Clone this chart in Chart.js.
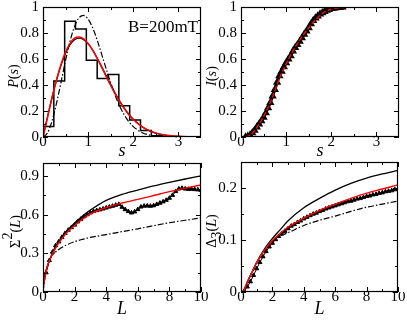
<!DOCTYPE html>
<html>
<head>
<meta charset="utf-8">
<script src="https://cdn.jsdelivr.net/npm/chart.js@4/dist/chart.umd.min.js"></script>
<style>
  body { margin: 0; background: #fff; }
  #wrap { position: relative; width: 407px; height: 320px; }
  #wrap canvas { position: absolute; left: 0; top: 0; }
</style>
</head>
<body>
<div id="wrap">
  <canvas id="c1" width="407" height="320"></canvas>
  <canvas id="c2" width="407" height="320"></canvas>
  <canvas id="c3" width="407" height="320"></canvas>
  <canvas id="c4" width="407" height="320"></canvas>
</div>
<script>
// ---------- panel 1: P(s) ----------
const histEdges = [0, 0.24, 0.48, 0.72, 0.96, 1.2, 1.44, 1.68, 1.92, 2.16, 2.4, 2.64];
const histHeights = [0.08, 0.43, 0.89, 0.83, 0.59, 0.45, 0.48, 0.24, 0.13, 0.05, 0.01];
const pS = [0, 0.1, 0.2, 0.3, 0.4, 0.5, 0.6, 0.7, 0.8, 0.9, 1.0, 1.1, 1.2, 1.3, 1.4, 1.5, 1.6, 1.7, 1.8, 1.9, 2.0, 2.2, 2.4, 2.6, 2.8, 3.0, 3.3];
const pRed = [0, 0.15, 0.30, 0.44, 0.56, 0.655, 0.72, 0.76, 0.77, 0.755, 0.72, 0.668, 0.605, 0.536, 0.465, 0.396, 0.33, 0.27, 0.218, 0.172, 0.134, 0.078, 0.043, 0.022, 0.011, 0.005, 0.001];
const pGOE = [0, 0.156, 0.305, 0.439, 0.554, 0.645, 0.71, 0.748, 0.76, 0.748, 0.716, 0.668, 0.608, 0.542, 0.472, 0.403, 0.337, 0.276, 0.222, 0.175, 0.136, 0.077, 0.041, 0.02, 0.009, 0.004, 0.001];
const gS = [0, 0.1, 0.2, 0.3, 0.4, 0.5, 0.6, 0.7, 0.8, 0.9, 1.0, 1.1, 1.2, 1.3, 1.4, 1.5, 1.6, 1.7, 1.8, 1.9, 2.0, 2.2, 2.4, 2.6];
const pGUE = [0, 0.032, 0.123, 0.26, 0.423, 0.59, 0.738, 0.851, 0.918, 0.936, 0.906, 0.841, 0.746, 0.636, 0.524, 0.416, 0.319, 0.237, 0.17, 0.118, 0.08, 0.033, 0.012, 0.004];

// ---------- panel 2: I(s) ----------
const iDataS = [0.10, 0.15, 0.20, 0.25, 0.30, 0.35, 0.40, 0.45, 0.50, 0.55, 0.60, 0.65, 0.70, 0.75, 0.80, 0.85, 0.90, 0.95, 1.00, 1.05, 1.10, 1.15, 1.20, 1.25, 1.30, 1.35, 1.40, 1.45, 1.50, 1.55, 1.60, 1.65, 1.70, 1.75, 1.80, 1.85, 1.90, 1.95, 2.00, 2.05, 2.10, 2.15, 2.20, 2.25];
const iData = [0, 0.005, 0.015, 0.032, 0.052, 0.076, 0.10, 0.125, 0.152, 0.185, 0.225, 0.265, 0.315, 0.365, 0.42, 0.47, 0.505, 0.54, 0.57, 0.60, 0.625, 0.66, 0.688, 0.71, 0.735, 0.762, 0.79, 0.815, 0.84, 0.87, 0.895, 0.915, 0.93, 0.945, 0.955, 0.965, 0.975, 0.982, 0.988, 0.99, 0.994, 0.996, 0.998, 1.0];
const iFitS = [0.1, 0.2, 0.3, 0.4, 0.5, 0.6, 0.7, 0.8, 0.9, 1.0, 1.1, 1.2, 1.3, 1.4, 1.5, 1.6, 1.7, 1.8, 1.9, 2.0, 2.2, 2.4, 2.6, 3.0];
const iFit = [0, 0.013, 0.05, 0.10, 0.158, 0.228, 0.31, 0.405, 0.49, 0.563, 0.63, 0.69, 0.745, 0.795, 0.84, 0.885, 0.92, 0.95, 0.97, 0.983, 0.995, 0.999, 1.0, 1.0];

// ---------- panel 3: Sigma^2(L) ----------
const dataL = [0.2, 0.4, 0.6, 0.8, 1.0, 1.2, 1.4, 1.6, 1.8, 2.0, 2.2, 2.4, 2.6, 2.8, 3.0, 3.2, 3.4, 3.6, 3.8, 4.0, 4.2, 4.4, 4.6, 4.8, 5.0, 5.2, 5.4, 5.6, 5.8, 6.0, 6.2, 6.4, 6.6, 6.8, 7.0, 7.2, 7.4, 7.6, 7.8, 8.0, 8.2, 8.4, 8.6, 8.8, 9.0, 9.2, 9.4, 9.6, 9.8, 10.0];
const sigData = [0.15, 0.245, 0.31, 0.36, 0.39, 0.425, 0.455, 0.48, 0.50, 0.52, 0.545, 0.565, 0.585, 0.60, 0.615, 0.625, 0.632, 0.638, 0.645, 0.652, 0.66, 0.666, 0.674, 0.68, 0.658, 0.64, 0.625, 0.614, 0.622, 0.64, 0.66, 0.667, 0.668, 0.666, 0.67, 0.68, 0.69, 0.70, 0.712, 0.728, 0.75, 0.78, 0.80, 0.805, 0.80, 0.797, 0.798, 0.795, 0.793, 0.79];
const curveL = [0, 0.1, 0.25, 0.5, 0.75, 1, 1.5, 2, 2.5, 3, 4, 5, 6, 7, 8, 9, 10];
const sigGOE = [0, 0.12, 0.19, 0.27, 0.335, 0.39, 0.47, 0.535, 0.59, 0.635, 0.71, 0.757, 0.79, 0.822, 0.85, 0.876, 0.90];
const sigRed = [0.03, 0.1, 0.19, 0.27, 0.33, 0.38, 0.46, 0.515, 0.565, 0.605, 0.655, 0.69, 0.718, 0.748, 0.778, 0.805, 0.83];
const sigGUE = [0, 0.09, 0.18, 0.27, 0.305, 0.33, 0.365, 0.39, 0.408, 0.423, 0.445, 0.468, 0.49, 0.514, 0.537, 0.556, 0.575];

// ---------- panel 4: Delta_3(L) ----------
const d3Data = [0.002, 0.01, 0.02, 0.032, 0.045, 0.057, 0.068, 0.078, 0.087, 0.094, 0.101, 0.107, 0.112, 0.117, 0.122, 0.127, 0.130, 0.134, 0.137, 0.141, 0.144, 0.147, 0.150, 0.152, 0.155, 0.157, 0.160, 0.162, 0.164, 0.166, 0.168, 0.170, 0.172, 0.174, 0.175, 0.177, 0.179, 0.180, 0.182, 0.184, 0.185, 0.187, 0.188, 0.190, 0.191, 0.193, 0.194, 0.195, 0.197, 0.198];
const d3L = [0.15, 0.4, 0.7, 1, 1.5, 2, 2.5, 3, 4, 5, 6, 7, 8, 9, 10];
const d3Red = [0, 0.019, 0.038, 0.057, 0.081, 0.099, 0.113, 0.125, 0.142, 0.157, 0.169, 0.18, 0.19, 0.198, 0.206];
const d3GOE = [0, 0.019, 0.038, 0.057, 0.083, 0.103, 0.12, 0.137, 0.162, 0.18, 0.196, 0.209, 0.219, 0.227, 0.234];
const d3GUE = [0, 0.019, 0.038, 0.056, 0.08, 0.097, 0.108, 0.114, 0.128, 0.138, 0.146, 0.155, 0.163, 0.169, 0.175];

// ---------- ticks ----------
const sTicks = [0, 1, 2, 3];
const sTickLabels = ['0', '1', '2', '3'];
const sMinor = [0.5, 1.5, 2.5];
const pTicks = [0, 0.2, 0.4, 0.6, 0.8, 1];
const pTickLabels = ['0', '0.2', '0.4', '0.6', '0.8', '1'];
const pMinor = [0.1, 0.3, 0.5, 0.7, 0.9];
const lTicks = [0, 2, 4, 6, 8, 10];
const lTickLabels = ['0', '2', '4', '6', '8', '10'];
const lMinor = [1, 3, 5, 7, 9];
const sigTicks = [0, 0.3, 0.6, 0.9];
const sigTickLabels = ['0', '0.3', '0.6', '0.9'];
const sigMinor = [0.15, 0.45, 0.75];
const d3Ticks = [0, 0.1, 0.2];
const d3TickLabels = ['0', '0.1', '0.2'];
const d3Minor = [0.05, 0.15, 0.25];

const FONT = 'Liberation Serif';
const RED = '#ff0000';
const DASHDOT = [6, 2, 1.5, 2];

Chart.defaults.font.family = FONT;
Chart.defaults.color = '#000';

const pts = (xs, ys) => xs.map((x, i) => ({ x: x, y: ys[i] }));

// histogram outline: start on the axis, one point per bin, back to the axis
function histPoints() {
  const out = [{ x: histEdges[0], y: 0 }];
  histHeights.forEach((h, i) => out.push({ x: histEdges[i], y: h }));
  out.push({ x: histEdges[histEdges.length - 1], y: histHeights[histHeights.length - 1] });
  out.push({ x: histEdges[histEdges.length - 1], y: 0 });
  return out;
}

// frame, inward ticks on all sides, rich y title, note
const framePlugin = {
  id: 'frame',
  afterDraw(chart, args, o) {
    const { ctx, chartArea: a, scales: { x, y } } = chart;
    ctx.save();
    ctx.strokeStyle = '#000';
    ctx.lineWidth = 1;
    ctx.beginPath();
    const tx = (vals, len) => vals.forEach(v => {
      const p = Math.round(x.getPixelForValue(v)) + 0.5;
      ctx.moveTo(p, a.bottom); ctx.lineTo(p, a.bottom - len);
      ctx.moveTo(p, a.top); ctx.lineTo(p, a.top + len);
    });
    const ty = (vals, len) => vals.forEach(v => {
      const p = Math.round(y.getPixelForValue(v)) + 0.5;
      ctx.moveTo(a.left, p); ctx.lineTo(a.left + len, p);
      ctx.moveTo(a.right, p); ctx.lineTo(a.right - len, p);
    });
    tx(o.xMajor, 5); tx(o.xMinor, 3);
    ty(o.yMajor, 5); ty(o.yMinor, 3);
    ctx.stroke();
    ctx.lineWidth = 1.2;
    ctx.strokeRect(a.left + 0.5, a.top + 0.5, a.right - a.left - 1, a.bottom - a.top - 1);

    // y title, rotated, mixed styles
    const size = o.titleSize;
    ctx.translate(a.left - o.titleOffset, (a.top + a.bottom) / 2 + 4);
    ctx.rotate(-Math.PI / 2);
    ctx.fillStyle = '#000';
    ctx.textBaseline = 'alphabetic';
    ctx.textAlign = 'left';
    const segs = o.title.map(s => {
      const sz = s.shift ? size * 0.62 : size;
      const font = (s.italic ? 'italic ' : '') + sz + 'px ' + FONT;
      ctx.font = font;
      return { t: s.t, font: font, w: ctx.measureText(s.t).width, dy: s.shift === 'up' ? -size * 0.38 : (s.shift === 'down' ? size * 0.18 : 0) };
    });
    let cx = -segs.reduce((acc, s) => acc + s.w, 0) / 2;
    segs.forEach(s => {
      ctx.font = s.font;
      ctx.fillText(s.t, cx, size * 0.32 + s.dy);
      cx += s.w;
    });
    ctx.restore();

    if (o.note) {
      ctx.save();
      ctx.font = o.note.size + 'px ' + FONT;
      ctx.fillStyle = '#000';
      ctx.textAlign = 'right';
      ctx.fillText(o.note.text, a.right - 3, a.top + 25);
      ctx.restore();
    }
  }
};

function makeChart(id, area, cfg) {
  const yw = 43, xh = cfg.xh;
  return new Chart(document.getElementById(id), {
    type: 'line',
    data: { datasets: cfg.datasets },
    options: {
      responsive: false,
      animation: false,
      events: [],
      layout: { padding: { left: area.l - yw, top: area.t, right: 407 - area.r, bottom: 320 - area.b - xh } },
      elements: { point: { radius: 0 }, line: { cubicInterpolationMode: 'monotone' } },
      scales: {
        x: {
          type: 'linear', min: cfg.xMin, max: cfg.xMax,
          grid: { display: false, drawTicks: false }, border: { display: false },
          afterBuildTicks: s => { s.ticks = cfg.xTicks.map(v => ({ value: v })); },
          afterFit: s => { s.height = xh; s.paddingLeft = 0; s.paddingRight = 0; s.paddingTop = 0; s.paddingBottom = 0; },
          ticks: { autoSkip: false, maxRotation: 0, padding: -4, font: { size: 15 }, callback: (v, i) => cfg.xLabels[i] },
          title: { display: true, text: cfg.xTitle, padding: 0, font: { size: 18, style: 'italic' } }
        },
        y: {
          type: 'linear', min: cfg.yMin, max: cfg.yMax,
          grid: { display: false, drawTicks: false }, border: { display: false },
          afterBuildTicks: s => { s.ticks = cfg.yTicks.map(v => ({ value: v })); },
          afterFit: s => { s.width = yw; s.paddingLeft = 0; s.paddingRight = 0; s.paddingTop = 0; s.paddingBottom = 0; },
          ticks: { autoSkip: false, padding: 4, font: { size: 15 }, callback: (v, i) => cfg.yLabels[i] }
        }
      },
      plugins: {
        legend: { display: false },
        tooltip: { enabled: false },
        frame: cfg.frame
      }
    },
    plugins: [framePlugin]
  });
}

// panel 1
makeChart('c1', { l: 43, t: 7, r: 201, b: 137 }, {
  xh: 25, xMin: 0, xMax: 3.5, yMin: 0, yMax: 1,
  xTicks: sTicks, xLabels: sTickLabels, yTicks: pTicks, yLabels: pTickLabels, xTitle: 's',
  datasets: [
    { data: pts(pS, pRed), borderColor: RED, borderWidth: 1.5 },
    { data: pts(pS, pGOE), borderColor: '#000', borderWidth: 1.3 },
    { data: pts(gS, pGUE), borderColor: '#000', borderWidth: 1.2, borderDash: DASHDOT },
    { data: histPoints(), borderColor: '#000', borderWidth: 1.5, stepped: 'before' }
  ],
  frame: { xMajor: sTicks, xMinor: sMinor, yMajor: pTicks, yMinor: pMinor, titleSize: 23, titleOffset: 32,
    title: [{ t: 'P', italic: true }, { t: '(' }, { t: 's', italic: true }, { t: ')' }],
    note: { text: 'B=200mT', size: 17 } }
});

// panel 2
makeChart('c2', { l: 241, t: 7, r: 399, b: 137 }, {
  xh: 25, xMin: 0, xMax: 3.5, yMin: 0, yMax: 1,
  xTicks: sTicks, xLabels: sTickLabels, yTicks: pTicks, yLabels: pTickLabels, xTitle: 's',
  datasets: [
    { data: pts(iFitS, iFit), borderColor: RED, borderWidth: 1.4, borderDash: [5, 2] },
    { data: pts(iDataS, iData), borderColor: '#000', borderWidth: 3, pointRadius: 1.8, pointStyle: 'triangle', pointBackgroundColor: '#000', pointBorderColor: '#000' }
  ],
  frame: { xMajor: sTicks, xMinor: sMinor, yMajor: pTicks, yMinor: pMinor, titleSize: 23, titleOffset: 32,
    title: [{ t: 'I', italic: true }, { t: '(' }, { t: 's', italic: true }, { t: ')' }] }
});

// panel 3
makeChart('c3', { l: 43, t: 163, r: 201, b: 292 }, {
  xh: 28, xMin: 0, xMax: 10, yMin: 0, yMax: 1,
  xTicks: lTicks, xLabels: lTickLabels, yTicks: sigTicks, yLabels: sigTickLabels, xTitle: 'L',
  datasets: [
    { data: pts(curveL, sigRed), borderColor: RED, borderWidth: 1.4 },
    { data: pts(curveL, sigGOE), borderColor: '#000', borderWidth: 1.3 },
    { data: pts(curveL, sigGUE), borderColor: '#000', borderWidth: 1.2, borderDash: DASHDOT },
    { data: pts(dataL, sigData), borderColor: '#000', borderWidth: 1, pointRadius: 2.4, pointStyle: 'triangle', pointBackgroundColor: '#000', pointBorderColor: '#000', cubicInterpolationMode: 'default', tension: 0 }
  ],
  frame: { xMajor: lTicks, xMinor: lMinor, yMajor: sigTicks, yMinor: sigMinor, titleSize: 23, titleOffset: 30,
    title: [{ t: 'Σ' }, { t: '2', shift: 'up' }, { t: '(' }, { t: 'L', italic: true }, { t: ')' }] }
});

// panel 4
makeChart('c4', { l: 241, t: 162, r: 398, b: 292 }, {
  xh: 28, xMin: 0, xMax: 10, yMin: 0, yMax: 0.25,
  xTicks: lTicks, xLabels: lTickLabels, yTicks: d3Ticks, yLabels: d3TickLabels, xTitle: 'L',
  datasets: [
    { data: pts(d3L, d3Red), borderColor: RED, borderWidth: 1.4 },
    { data: pts(d3L, d3GOE), borderColor: '#000', borderWidth: 1.3 },
    { data: pts(d3L, d3GUE), borderColor: '#000', borderWidth: 1.2, borderDash: DASHDOT },
    { data: pts(dataL, d3Data), borderColor: '#000', borderWidth: 1, pointRadius: 2.4, pointStyle: 'triangle', pointBackgroundColor: '#000', pointBorderColor: '#000', cubicInterpolationMode: 'default', tension: 0 }
  ],
  frame: { xMajor: lTicks, xMinor: lMinor, yMajor: d3Ticks, yMinor: d3Minor, titleSize: 23, titleOffset: 32,
    title: [{ t: 'Δ' }, { t: '3', shift: 'down' }, { t: '(' }, { t: 'L', italic: true }, { t: ')' }] }
});
</script>
</body>
</html>
